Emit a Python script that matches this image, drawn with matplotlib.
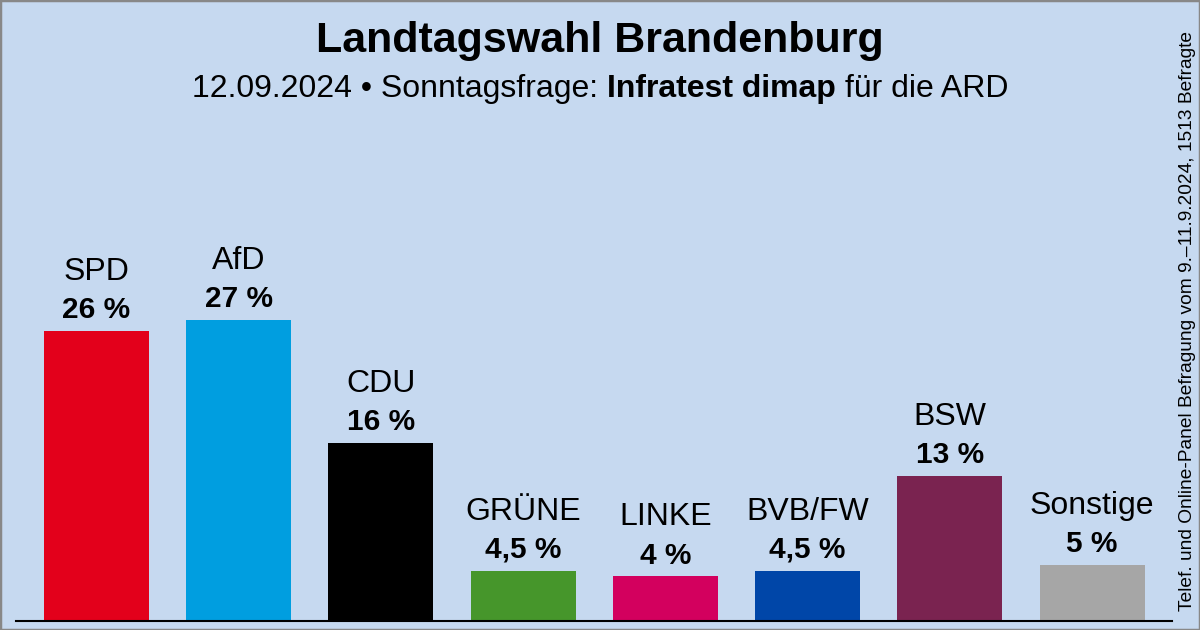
import matplotlib
matplotlib.use("Agg")
import matplotlib.pyplot as plt
from matplotlib.patches import Rectangle

parties = ["SPD", "AfD", "CDU", "GRÜNE", "LINKE", "BVB/FW", "BSW", "Sonstige"]
values = [26, 27, 16, 4.5, 4, 4.5, 13, 5]
value_labels = ["26 %", "27 %", "16 %", "4,5 %", "4 %", "4,5 %", "13 %", "5 %"]
colors = ["#e3001b", "#009ee0", "#000000", "#46962b",
          "#d3005e", "#0046a8", "#7a2350", "#a6a6a6"]

title = "Landtagswahl Brandenburg"
sub_parts = ["12.09.2024 • Sonntagsfrage: ", "Infratest dimap", " für die ARD"]
source = "Telef. und Online-Panel Befragung vom 9.–11.9.2024, 1513 Befragte"

bg = "#c6d9f0"
plt.rcParams["font.family"] = ["Liberation Sans", "DejaVu Sans"]

fig = plt.figure(figsize=(12, 6.3), dpi=100)
fig.patch.set_facecolor(bg)

W, H = 1200, 630
ax = fig.add_axes([16 / W, (H - 621) / H, 1156 / W, (621 - 130) / H])
ax.set_facecolor(bg)

x = list(range(len(parties)))
ax.bar(x, values, width=0.738, color=colors)
ax.set_xlim(-0.566, 7.562)
ax.set_ylim(0, 491 / 11.15)

for s in ["top", "right", "left"]:
    ax.spines[s].set_visible(False)
ax.spines["bottom"].set_linewidth(1.5)
ax.set_xticks([])
ax.set_yticks([])

for xi, v, name, lab in zip(x, values, parties, value_labels):
    ax.annotate(name, (xi, v), xytext=(0, 42.5), textcoords="offset points",
                ha="center", va="center", fontsize=23)
    ax.annotate(lab, (xi, v), xytext=(0, 15), textcoords="offset points",
                ha="center", va="center", fontsize=21.5, fontweight="bold")

fig.text(0.5, 1 - 41 / H, title, ha="center", va="center",
         fontsize=31, fontweight="bold")

# subtitle with bold middle part
renderer = fig.canvas.get_renderer()
weights = ["normal", "bold", "normal"]
pieces = []
for part, w in zip(sub_parts, weights):
    t = fig.text(0, 1 - 89 / H, part, ha="left", va="center",
                 fontsize=23, fontweight=w)
    pieces.append(t)
widths = [t.get_window_extent(renderer).width for t in pieces]
start = (W - sum(widths)) / 2
for t, w in zip(pieces, widths):
    t.set_x(start / W)
    start += w

fig.text(1187 / W, 1 - 321 / H, source, rotation=90, ha="center", va="center",
         fontsize=13.8)

fig.patches.append(Rectangle((0, 0), 1, 1, transform=fig.transFigure,
                             fill=False, edgecolor="#888888", linewidth=2.5))

fig.savefig("out.png", dpi=100, facecolor=bg)
